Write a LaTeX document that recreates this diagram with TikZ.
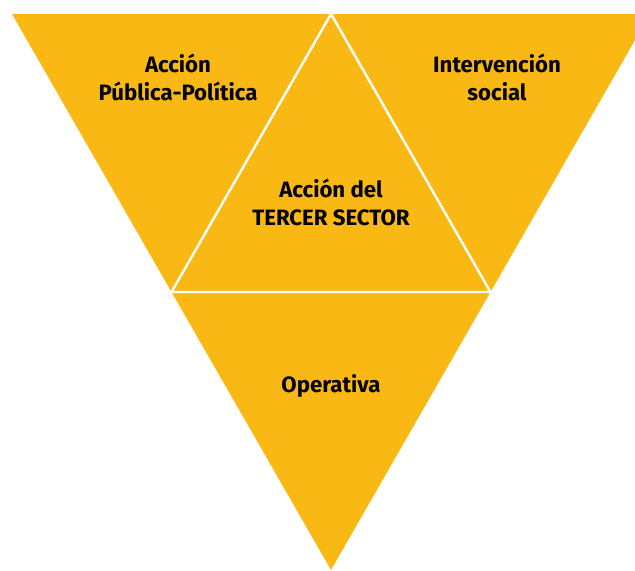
\documentclass[tikz,border=0pt]{standalone}
\usepackage{fontspec}
\setmainfont{Fira Sans}
\usepackage{tikz}
\usetikzlibrary{calc}
\definecolor{ambar}{RGB}{250,184,20}

\begin{document}
\begin{tikzpicture}[x=0.5pt, y=-0.5pt, every node/.style={font=\fontsize{11.1}{14}\selectfont\bfseries, align=center, text=black}, borde/.style={draw=white, line width=1.2pt, line join=miter}]
	\useasboundingbox (0,0) rectangle (635,570);
	\clip (0,0) rectangle (635,570);
	\coordinate (TL) at (12,14); \coordinate (TR) at (650,14); \coordinate (B) at (331,570);
	\fill[ambar] (TL) -- (TR) -- (B) -- cycle;
	% triangulo central
	\coordinate (M1) at ($(TL)!0.5!(TR)$); \coordinate (M2) at ($(TL)!0.5!(B)$); \coordinate (M3) at ($(TR)!0.5!(B)$);
	\draw[borde] (M1) -- (M2) -- (M3) -- cycle;
	\node (publica) at (178,77) {Acción\\Pública-Política};
	\node (social) at (497,77) {Intervención\\social};
	\node (tercer) at (331,202) {Acción del\\TERCER SECTOR};
	\node (operativa) at (331,386) {Operativa};
\end{tikzpicture}
\end{document}
